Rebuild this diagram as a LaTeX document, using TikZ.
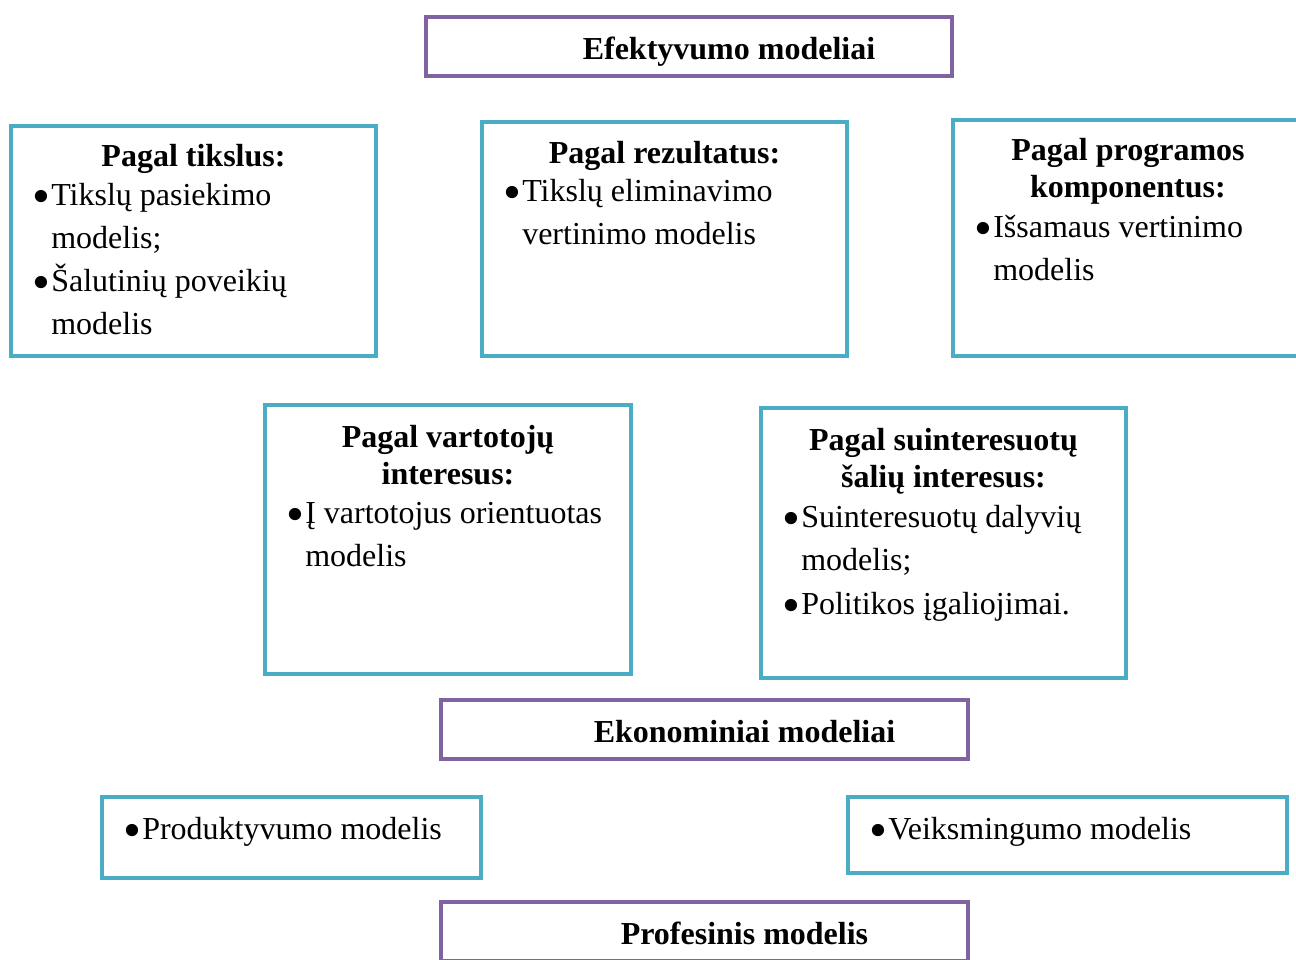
\documentclass[tikz,border=0pt]{standalone}
\usepackage{fontspec}
\setmainfont{Liberation Serif}
\usepackage{graphicx}
\usepackage{tikz}
\usetikzlibrary{calc}
\definecolor{boxteal}{RGB}{75,172,198}
\definecolor{boxpurple}{RGB}{128,100,162}
\newcommand{\bigsz}{\fontsize{24pt}{28pt}\selectfont}
\newcommand{\bdot}{\raisebox{-6.5pt}{\scalebox{1.6}{•}}}
\tikzset{
  tealbox/.style={draw=boxteal, line width=3pt, outer sep=0pt, inner sep=0pt},
  purplebox/.style={tealbox, draw=boxpurple},
  ttl/.style={font=\bigsz\bfseries, anchor=base, inner sep=0pt},
  itm/.style={font=\bigsz, anchor=base west, inner sep=0pt},
  blt/.style={itm}
}

\begin{document}
\begin{tikzpicture}[x=0.75pt, y=-0.75pt]
\clip (0,0) rectangle (1296,960);
\useasboundingbox (0,0) rectangle (1296,960);
\node[purplebox, minimum width=394.5pt, minimum height=44.25pt] (eff) at (689,46.5) {};
\node[ttl] (effT) at ($(eff.north)+(40,42)$) {Efektyvumo modeliai};

\node[tealbox, minimum width=273.75pt, minimum height=172.5pt] (tik) at (193.5,241) {};
\node[ttl] (tikT) at ($(tik.north)+(0,40)$) {Pagal tikslus:};
\node[blt] (tikB1) at ($(tik.north west)+(21,79)$) {\bdot};
\node[itm] (tikL1) at ($(tik.north west)+(40,79)$) {Tikslų pasiekimo};
\node[itm] (tikL2) at ($(tik.north west)+(40,122)$) {modelis;};
\node[blt] (tikB2) at ($(tik.north west)+(21,165)$) {\bdot};
\node[itm] (tikL3) at ($(tik.north west)+(40,165)$) {Šalutinių poveikių};
\node[itm] (tikL4) at ($(tik.north west)+(40,208)$) {modelis};

\node[tealbox, minimum width=273.75pt, minimum height=175.5pt] (rez) at (664.5,239) {};
\node[ttl] (rezT) at ($(rez.north)+(0,41)$) {Pagal rezultatus:};
\node[blt] (rezB1) at ($(rez.north west)+(21,79)$) {\bdot};
\node[itm] (rezL1) at ($(rez.north west)+(40,79)$) {Tikslų eliminavimo};
\node[itm] (rezL2) at ($(rez.north west)+(40,122)$) {vertinimo modelis};

\node[tealbox, minimum width=262.5pt, minimum height=177pt] (prog) at (1128,238) {};
\node[ttl] (progT1) at ($(prog.north)+(0,40)$) {Pagal programos};
\node[ttl] (progT2) at ($(prog.north)+(0,77)$) {komponentus:};
\node[blt] (progB1) at ($(prog.north west)+(21,117)$) {\bdot};
\node[itm] (progL1) at ($(prog.north west)+(40,117)$) {Išsamaus vertinimo};
\node[itm] (progL2) at ($(prog.north west)+(40,160)$) {modelis};

\node[tealbox, minimum width=274.5pt, minimum height=201.75pt] (vart) at (448,539.5) {};
\node[ttl] (vartT1) at ($(vart.north)+(0,42)$) {Pagal vartotojų};
\node[ttl] (vartT2) at ($(vart.north)+(0,79)$) {interesus:};
\node[blt] (vartB1) at ($(vart.north west)+(21,118)$) {\bdot};
\node[itm] (vartL1) at ($(vart.north west)+(40,118)$) {Į vartotojus orientuotas};
\node[itm] (vartL2) at ($(vart.north west)+(40,161)$) {modelis};

\node[tealbox, minimum width=273.75pt, minimum height=202.5pt] (suin) at (943.5,543) {};
\node[ttl] (suinT1) at ($(suin.north)+(0,42)$) {Pagal suinteresuotų};
\node[ttl] (suinT2) at ($(suin.north)+(0,79)$) {šalių interesus:};
\node[blt] (suinB1) at ($(suin.north west)+(21,119)$) {\bdot};
\node[itm] (suinL1) at ($(suin.north west)+(40,119)$) {Suinteresuotų dalyvių};
\node[itm] (suinL2) at ($(suin.north west)+(40,162)$) {modelis;};
\node[blt] (suinB2) at ($(suin.north west)+(21,206)$) {\bdot};
\node[itm] (suinL3) at ($(suin.north west)+(40,206)$) {Politikos įgaliojimai.};

\node[purplebox, minimum width=395.25pt, minimum height=44.25pt] (eko) at (704.5,729.5) {};
\node[ttl] (ekoT) at ($(eko.north)+(40,42)$) {Ekonominiai modeliai};

\node[tealbox, minimum width=284.25pt, minimum height=60.75pt] (prod) at (291.5,837.5) {};
\node[blt] (prodB1) at ($(prod.north west)+(21,42)$) {\bdot};
\node[itm] (prodL1) at ($(prod.north west)+(40,42)$) {Produktyvumo modelis};

\node[tealbox, minimum width=329.25pt, minimum height=57pt] (veik) at (1067.5,835) {};
\node[blt] (veikB1) at ($(veik.north west)+(21,42)$) {\bdot};
\node[itm] (veikL1) at ($(veik.north west)+(40,42)$) {Veiksmingumo modelis};

\node[purplebox, minimum width=395.25pt, minimum height=44.25pt] (prof) at (704.5,931.5) {};
\node[ttl] (profT) at ($(prof.north)+(40,42)$) {Profesinis modelis};
\end{tikzpicture}
\end{document}
